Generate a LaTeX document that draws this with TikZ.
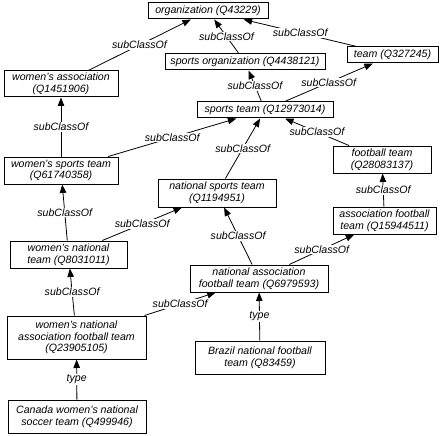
\documentclass[tikz,border=0pt]{standalone}
\usepackage{fontspec}
\setmainfont{Liberation Sans}
\usetikzlibrary{arrows.meta}
\tikzset{
  cls/.style={draw, line width=1pt, inner sep=0pt, align=center,
    font=\fontsize{10.6}{11.7}\selectfont\itshape},
  lbl/.style={fill=white, inner sep=1pt, font=\fontsize{10.6}{11.7}\selectfont\itshape},
  rel/.style={line width=0.8pt, -{Triangle[length=8.5pt,width=6.5pt]}},
}
\begin{document}
\begin{tikzpicture}[x=1pt,y=-1pt]
\useasboundingbox (0,0) rectangle (445,436);
\node[cls, minimum width=120pt, minimum height=16pt] (org) at (208,11) {organization (Q43229)};
\node[cls, minimum width=160pt, minimum height=16pt] (sorg) at (245,62) {sports organization (Q4438121)};
\node[cls, minimum width=91pt, minimum height=16pt] (team) at (392.5,55) {team (Q327245)};
\node[cls, minimum width=136pt, minimum height=16pt] (steam) at (265,110) {sports team (Q12973014)};
\node[cls, minimum width=114pt, minimum height=26pt] (wassoc) at (61,84) {women's association\\(Q1451906)};
\node[cls, minimum width=114pt, minimum height=27pt] (wst) at (61,170.5) {women's sports team\\(Q61740358)};
\node[cls, minimum width=118pt, minimum height=28pt] (nst) at (217,193) {national sports team\\(Q1194951)};
\node[cls, minimum width=98pt, minimum height=27pt] (ft) at (382,159.5) {football team\\(Q28083137)};
\node[cls, minimum width=103pt, minimum height=27pt] (aft) at (384.5,220.5) {association football\\team (Q15944511)};
\node[cls, minimum width=117pt, minimum height=27pt] (wnt) at (68.5,254.5) {women's national\\team (Q8031011)};
\node[cls, minimum width=138pt, minimum height=27pt] (naft) at (259,278.5) {national association\\football team (Q6979593)};
\node[cls, minimum width=139pt, minimum height=43pt] (wnaft) at (76.5,337.5) {women's national\\association football team\\(Q23905105)};
\node[cls, minimum width=130pt, minimum height=33pt] (brazil) at (260,357.5) {Brazil national football\\team (Q83459)};
\node[cls, minimum width=138pt, minimum height=33pt] (canada) at (77,416.5) {Canada women's national\\soccer team (Q499946)};

\draw[rel] (wassoc) -- node[lbl] (l1) {subClassOf} (org);
\draw[rel] (sorg) -- node[lbl] (l2) {subClassOf} (org);
\draw[rel] (team) -- node[lbl] (l3) {subClassOf} (org);
\draw[rel] (steam) -- node[lbl] (l4) {subClassOf} (sorg);
\draw[rel] (steam) -- node[lbl] (l5) {subClassOf} (team);
\draw[rel] (wst) -- node[lbl] (l6) {subClassOf} (wassoc);
\draw[rel] (wst) -- node[lbl] (l7) {subClassOf} (steam);
\draw[rel] (nst) -- node[lbl] (l8) {subClassOf} (steam);
\draw[rel] (ft) -- node[lbl] (l9) {subClassOf} (steam);
\draw[rel] (aft) -- node[lbl] (l10) {subClassOf} (ft);
\draw[rel] (wnt) -- node[lbl] (l11) {subClassOf} (wst);
\draw[rel] (wnt) -- node[lbl] (l12) {subClassOf} (nst);
\draw[rel] (naft) -- node[lbl] (l13) {subClassOf} (nst);
\draw[rel] (naft) -- node[lbl] (l14) {subClassOf} (aft);
\draw[rel] (wnaft) -- node[lbl] (l15) {subClassOf} (wnt);
\draw[rel] (wnaft) -- node[lbl] (l16) {subClassOf} (naft);
\draw[rel] (brazil) -- node[lbl] (l17) {type} (naft);
\draw[rel] (canada) -- node[lbl] (l18) {type} (wnaft);
\end{tikzpicture}
\end{document}
